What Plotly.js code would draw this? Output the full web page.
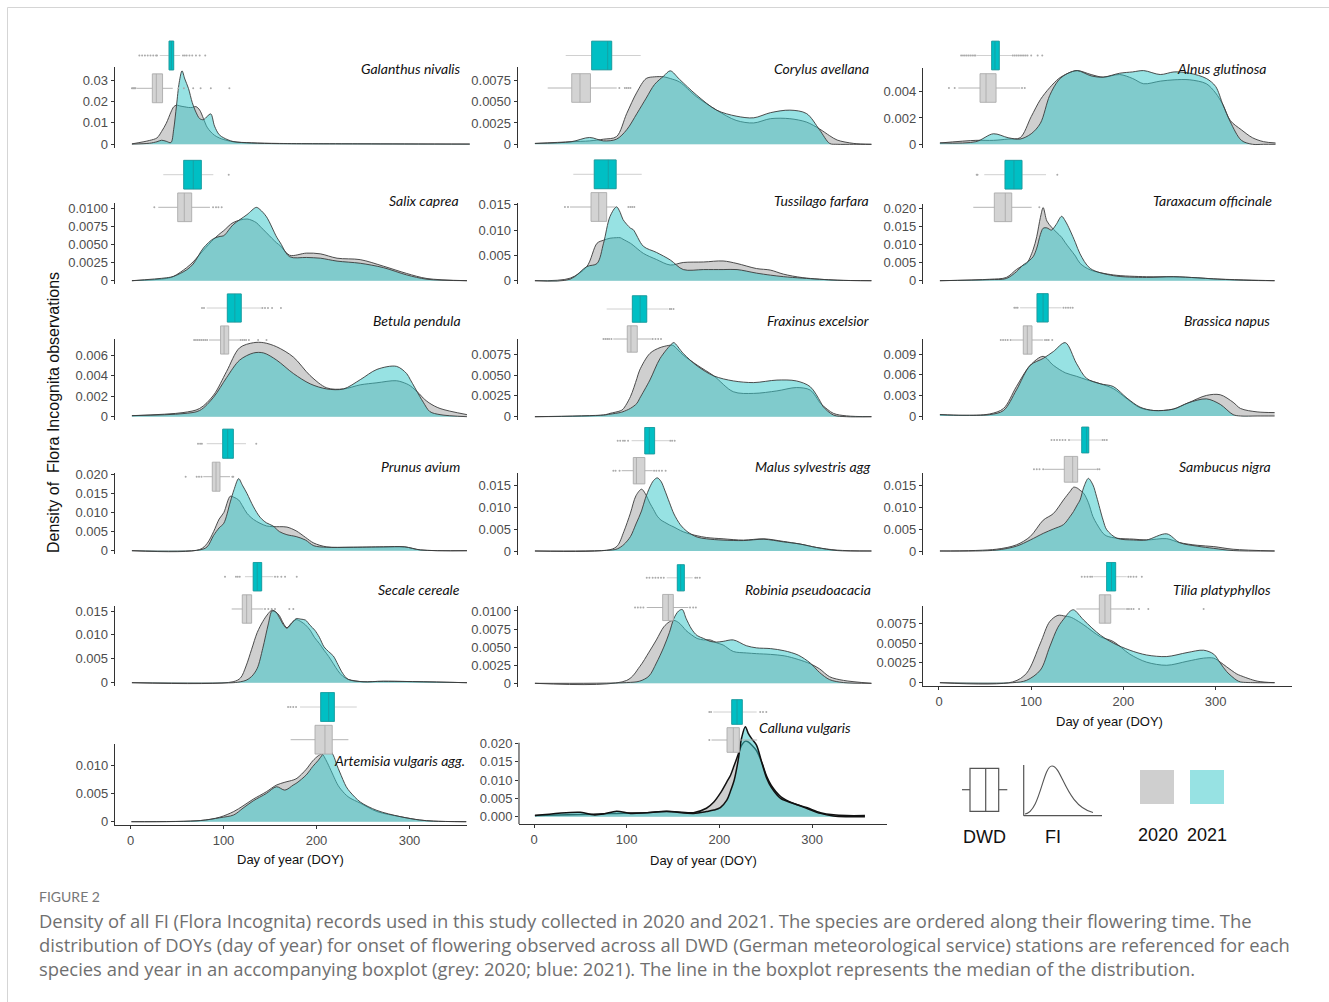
<!DOCTYPE html>
<html><head><meta charset="utf-8">
<script src="https://cdn.plot.ly/plotly-3.0.1.min.js"></script>
<style>html,body{margin:0;padding:0;background:#fff;}#chart{width:1329px;height:1002px;}</style>
</head><body><div id="chart"></div>
<script>
// ---------------- DATA ----------------
const SPECIES_NAMES = ['Galanthus nivalis','Corylus avellana','Alnus glutinosa','Salix caprea','Tussilago farfara','Taraxacum officinale','Betula pendula','Fraxinus excelsior','Brassica napus','Prunus avium','Malus sylvestris agg','Sambucus nigra','Secale cereale','Robinia pseudoacacia','Tilia platyphyllos','Artemisia vulgaris agg.','Calluna vulgaris'];
const X_TICKS = [0,100,200,300];

// density of FI records (DOY, 2020, 2021)
const galanthus_doy = [1,20,28,33,38,43,46,49,52,55,58,62,66,70,74,78,82,86,90,95,100,110,130,160,250,365];
const galanthus_2020 = [0.0002,0.0018,0.0030,0.0060,0.0098,0.0150,0.0175,0.0183,0.0180,0.0177,0.0175,0.0172,0.0172,0.0176,0.0160,0.0121,0.0080,0.0058,0.0042,0.0030,0.0022,0.0012,0.0007,0.0004,0.0002,0.0001];
const galanthus_2021 = [0.0001,0.0005,0.0012,0.0019,0.0014,0.0008,0.0070,0.0180,0.0290,0.0343,0.0305,0.0260,0.0195,0.0150,0.0120,0.0115,0.0130,0.0142,0.0085,0.0045,0.0030,0.0013,0.0006,0.0003,0.0002,0.0001];

const corylus_doy = [1,40,60,75,89,100,111,121,130,140,147,157,175,197,218,237,255,276,294,308,319,327,345,364];
const corylus_2020 = [0.0001,0.0003,0.0004,0.0006,0.0009,0.0036,0.0061,0.0077,0.0079,0.0079,0.0077,0.0073,0.0056,0.0040,0.0028,0.0025,0.0030,0.0030,0.0026,0.0018,0.0010,0.0005,0.0001,0.0000];
const corylus_2021 = [0.0001,0.0003,0.0008,0.0004,0.0006,0.0017,0.0036,0.0054,0.0070,0.0080,0.0086,0.0076,0.0058,0.0040,0.0033,0.0031,0.0037,0.0040,0.0036,0.0017,0.0001,0.0000,0.0000,0.0000];

const alnus_doy = [1,40,59,75,88,100,110,120,130,140,150,165,178,196,210,222,240,255,272,290,300,308,316,328,340,352,365];
const alnus_2020 = [0.0001,0.0003,0.0003,0.0004,0.0005,0.0021,0.0034,0.0043,0.0050,0.0054,0.0056,0.0053,0.0051,0.0053,0.0050,0.0046,0.0048,0.0049,0.0049,0.0046,0.0039,0.0030,0.0018,0.0011,0.0005,0.0002,0.0001];
const alnus_2021 = [0.0001,0.0002,0.0008,0.0005,0.0004,0.0008,0.0016,0.0037,0.0049,0.0054,0.0056,0.0052,0.0051,0.0054,0.0055,0.0056,0.0053,0.0055,0.0054,0.0050,0.0044,0.0030,0.0017,0.0003,0.0000,0.0000,0.0000];

const salix_doy = [1,38,46,60,67,78,89,96,100,110,125,135,139,146,157,161,171,189,204,222,247,272,297,319,362];
const salix_2020 = [0,0.0003,0.0006,0.0018,0.0026,0.0042,0.0057,0.0065,0.0069,0.0080,0.0085,0.0080,0.0075,0.0066,0.0052,0.0048,0.0035,0.0038,0.0037,0.0031,0.0029,0.0020,0.0010,0.0003,0];
const salix_2021 = [0,0.0004,0.0006,0.0015,0.0023,0.0045,0.0058,0.0061,0.0062,0.0077,0.0091,0.0101,0.0098,0.0088,0.0060,0.0052,0.0033,0.0032,0.0031,0.0027,0.0024,0.0018,0.0008,0.0002,0];

const tussilago_doy = [1,39,57,68,75,82,89,93,96,104,107,118,132,147,161,183,204,219,240,255,269,290,327,364];
const tussilago_2020 = [0,0.0005,0.0028,0.0074,0.0080,0.0084,0.0085,0.0085,0.0082,0.0074,0.0070,0.0054,0.0042,0.0031,0.0036,0.0037,0.0039,0.0034,0.0024,0.0021,0.0013,0.0006,0.0001,0];
const tussilago_2021 = [0,0.0003,0.0028,0.0034,0.0074,0.0127,0.0146,0.0135,0.0121,0.0104,0.0101,0.0068,0.0056,0.0041,0.0022,0.0022,0.0022,0.0022,0.0015,0.0011,0.0008,0.0005,0.0001,0];

const taraxacum_doy = [1,55,73,84,91,95,102,106,110,113,117,122,127,133,137,142,148,153,164,189,225,254,280,298,334,364];
const taraxacum_2020 = [0,0.0004,0.0009,0.0031,0.0042,0.0047,0.0085,0.0122,0.0175,0.0202,0.0165,0.0148,0.0135,0.0120,0.0105,0.0088,0.0068,0.0048,0.0030,0.0016,0.0011,0.0011,0.0008,0.0005,0.0002,0];
const taraxacum_2021 = [0,0.0003,0.0006,0.0025,0.0043,0.0050,0.0066,0.0090,0.0128,0.0145,0.0146,0.0140,0.0155,0.0178,0.0165,0.0140,0.0105,0.0074,0.0034,0.0014,0.0009,0.0011,0.0008,0.0005,0.0001,0];

const betula_doy = [1,56,74,89,103,117,132,143,157,175,193,211,229,247,265,286,297,301,311,315,322,333,362];
const betula_2020 = [0.0001,0.0004,0.0008,0.0021,0.0044,0.0067,0.0072,0.0072,0.0068,0.0058,0.0040,0.0028,0.0027,0.0031,0.0033,0.0035,0.0032,0.0030,0.0022,0.0018,0.0013,0.0008,0.0002];
const betula_2021 = [0.0001,0.0003,0.0006,0.0019,0.0038,0.0055,0.0062,0.0062,0.0055,0.0042,0.0032,0.0027,0.0027,0.0036,0.0046,0.0049,0.0042,0.0036,0.0020,0.0014,0.0005,0.0002,0];

const fraxinus_doy = [1,75,82,93,96,104,111,114,125,136,149,151,161,176,194,215,237,262,283,298,309,312,323,337,364];
const fraxinus_2020 = [0,0.0002,0.0004,0.0007,0.0009,0.0024,0.0046,0.0056,0.0076,0.0083,0.0086,0.0085,0.0074,0.0062,0.0049,0.0030,0.0028,0.0031,0.0035,0.0032,0.0016,0.0013,0.0004,0.0001,0];
const fraxinus_2021 = [0,0.0002,0.0003,0.0005,0.0006,0.0010,0.0016,0.0022,0.0044,0.0070,0.0088,0.0089,0.0076,0.0061,0.0049,0.0043,0.0041,0.0044,0.0043,0.0036,0.0018,0.0012,0.0002,0,0];

const brassica_doy = [1,26,55,70,84,99,113,124,137,149,160,175,189,204,218,233,254,270,290,305,319,327,345,364];
const brassica_2020 = [0.0002,0.0001,0.0003,0.0011,0.0043,0.0074,0.0087,0.0074,0.0063,0.0058,0.0053,0.0047,0.0040,0.0025,0.0012,0.0008,0.0010,0.0019,0.0030,0.0031,0.0020,0.0011,0.0006,0.0005];
const brassica_2021 = [0.0002,0.0001,0.0002,0.0008,0.0038,0.0074,0.0084,0.0094,0.0107,0.0077,0.0055,0.0047,0.0043,0.0026,0.0013,0.0008,0.0010,0.0019,0.0025,0.0017,0.0002,0,0,0];

const prunus_doy = [1,74,82,89,95,100,107,111,116,120,125,132,139,146,153,160,168,178,188,197,211,236,272,295,312,362];
const prunus_2020 = [0,0.0003,0.0019,0.0050,0.0083,0.0100,0.0143,0.0140,0.0133,0.0118,0.0098,0.0082,0.0072,0.0065,0.0063,0.0063,0.0062,0.0052,0.0035,0.0020,0.0010,0.0009,0.0010,0.0010,0.0002,0];
const prunus_2021 = [0,0.0002,0.0010,0.0040,0.0060,0.0072,0.0128,0.0160,0.0189,0.0172,0.0150,0.0115,0.0088,0.0073,0.0065,0.0050,0.0042,0.0037,0.0028,0.0013,0.0009,0.0009,0.0010,0.0010,0.0002,0];

const malus_doy = [1,82,90,97,104,110,116,120,125,129,133,137,141,146,151,158,165,176,186,204,226,248,269,287,305,327,364];
const malus_2020 = [0,0.0003,0.0012,0.0045,0.0087,0.0127,0.0142,0.0132,0.0110,0.0095,0.0080,0.0071,0.0066,0.0060,0.0055,0.0047,0.0041,0.0035,0.0031,0.0028,0.0025,0.0028,0.0022,0.0016,0.0008,0.0002,0];
const malus_2021 = [0,0.0002,0.0005,0.0015,0.0033,0.0062,0.0092,0.0120,0.0147,0.0162,0.0168,0.0160,0.0140,0.0112,0.0085,0.0060,0.0045,0.0032,0.0028,0.0025,0.0024,0.0027,0.0021,0.0016,0.0008,0.0001,0];

const sambucus_doy = [1,62,84,99,113,124,135,142,146,150,153,157,162,167,171,178,182,193,211,225,247,261,280,298,319,364];
const sambucus_2020 = [0,0.0004,0.0014,0.0033,0.0070,0.0085,0.0116,0.0135,0.0145,0.0143,0.0138,0.0131,0.0110,0.0078,0.0062,0.0040,0.0034,0.0029,0.0027,0.0025,0.0028,0.0019,0.0013,0.0010,0.0004,0];
const sambucus_2021 = [0,0.0002,0.0011,0.0025,0.0040,0.0050,0.0060,0.0078,0.0090,0.0105,0.0116,0.0145,0.0165,0.0150,0.0123,0.0070,0.0048,0.0029,0.0025,0.0025,0.0039,0.0019,0.0011,0.0006,0.0001,0];

const secale_doy = [1,110,118,124,130,136,142,148,152,156,160,164,168,173,178,183,188,193,198,203,208,213,218,223,228,234,250,272,362];
const secale_2020 = [0,0.0002,0.0010,0.0035,0.0070,0.0105,0.0128,0.0145,0.0152,0.0148,0.0140,0.0125,0.0115,0.0125,0.0132,0.0128,0.0121,0.0110,0.0094,0.0082,0.0068,0.0055,0.0040,0.0025,0.0014,0.0007,0.0002,0.0003,0];
const secale_2021 = [0,0.0000,0.0002,0.0005,0.0013,0.0030,0.0072,0.0123,0.0150,0.0148,0.0136,0.0122,0.0114,0.0124,0.0134,0.0133,0.0131,0.0120,0.0110,0.0095,0.0075,0.0065,0.0056,0.0038,0.0020,0.0007,0.0002,0.0003,0];

const robinia_doy = [1,100,114,124,132,140,146,151,156,160,164,170,176,183,190,197,204,215,229,240,255,270,285,298,308,319,334,364];
const robinia_2020 = [0,0.0004,0.0023,0.0043,0.0060,0.0078,0.0085,0.0087,0.0084,0.0079,0.0073,0.0067,0.0062,0.0060,0.0060,0.0056,0.0053,0.0044,0.0042,0.0041,0.0040,0.0038,0.0033,0.0027,0.0020,0.0009,0.0004,0];
const robinia_2021 = [0,0.0001,0.0003,0.0010,0.0028,0.0050,0.0070,0.0090,0.0100,0.0102,0.0090,0.0075,0.0066,0.0062,0.0058,0.0057,0.0058,0.0060,0.0052,0.0049,0.0048,0.0045,0.0039,0.0028,0.0015,0.0005,0.0001,0];

const tilia_doy = [1,80,95,110,120,129,137,142,146,157,175,189,207,225,247,269,287,298,305,312,323,327,345,364];
const tilia_2020 = [0,0.0001,0.0012,0.0050,0.0077,0.0085,0.0084,0.0083,0.0081,0.0073,0.0058,0.0052,0.0036,0.0026,0.0022,0.0027,0.0031,0.0031,0.0026,0.0020,0.0011,0.0009,0.0002,0];
const tilia_2021 = [0,0,0.0003,0.0016,0.0045,0.0070,0.0083,0.0090,0.0092,0.0079,0.0060,0.0050,0.0041,0.0035,0.0033,0.0038,0.0041,0.0036,0.0025,0.0014,0.0003,0.0001,0,0];

const artemisia_doy = [1,75,96,111,121,132,146,157,166,175,179,189,196,202,206,210,213,218,222,225,232,236,247,265,290,311,326,361];
const artemisia_2020 = [0,0.0002,0.0008,0.0018,0.0028,0.0040,0.0053,0.0065,0.0070,0.0074,0.0077,0.0093,0.0108,0.0117,0.0120,0.0110,0.0100,0.0082,0.0068,0.0060,0.0047,0.0042,0.0033,0.0018,0.0009,0.0003,0.0001,0];
const artemisia_2021 = [0,0.0002,0.0007,0.0012,0.0024,0.0037,0.0050,0.0062,0.0056,0.0065,0.0069,0.0083,0.0098,0.0109,0.0118,0.0126,0.0130,0.0118,0.0100,0.0088,0.0062,0.0053,0.0035,0.0020,0.0009,0.0003,0.0001,0];

const calluna_doy = [1,50,64,75,89,104,122,143,172,186,194,201,208,212,216,220,224,228,231,235,240,246,251,256,266,280,294,309,323,337,357];
const calluna_2020 = [0.0003,0.0006,0.0007,0.0008,0.0009,0.0010,0.0011,0.0015,0.0011,0.0023,0.0040,0.0064,0.0095,0.0113,0.0140,0.0168,0.0195,0.0206,0.0204,0.0195,0.0180,0.0146,0.0110,0.0085,0.0055,0.0036,0.0025,0.0011,0.0005,0.0003,0.0003];
const calluna_2021 = [0.0003,0.0012,0.0005,0.0007,0.0015,0.0009,0.0011,0.0014,0.0009,0.0014,0.0018,0.0025,0.0045,0.0070,0.0100,0.0150,0.0215,0.0245,0.0228,0.0212,0.0195,0.0145,0.0105,0.0080,0.0050,0.0036,0.0023,0.0009,0.0002,0,0];

// DWD onset-of-flowering boxplots: [lower whisker, Q1, median, Q3, upper whisker] (DOY)
const galanthus_box2020 = [6.5,23,27.3,34,45],   galanthus_box2021 = [31,41,43.5,46,53];
const corylus_box2020 = [14.8,40.7,49.6,60.9,89.2], corylus_box2021 = [34.2,62.2,79.5,83.8,115.1];
const alnus_box2020 = [21,44.5,51,61.9,88.2],    alnus_box2021 = [41,57.1,60.7,65.4,79];
const salix_box2020 = [29.4,50.3,57.4,65.4,85.1], salix_box2021 = [34.8,56.8,67.1,75.8,88.7];
const tussilago_box2020 = [38.8,61.5,69.8,78.4,87.4], tussilago_box2021 = [42.4,65,80.1,88.6,116.2];
const taraxacum_box2020 = [37.2,60,71.9,78.9,100.5], taraxacum_box2021 = [49.1,71.6,81.3,90,116.1];
const betula_box2020 = [84,96.5,100.3,105.3,117], betula_box2021 = [81.6,103.8,111.9,118.8,140.8];
const fraxinus_box2020 = [85.5,100.6,104.6,111.4,126.9], fraxinus_box2021 = [78.4,106.1,114.5,121.6,145];
const brassica_box2020 = [78.8,91.4,95.8,100.9,113.1], brassica_box2021 = [87.9,106.3,112.9,118.4,133];
const prunus_box2020 = [77.9,87.6,91.6,95.9,106.7], prunus_box2021 = [81.6,98.8,104.2,110.3,123.9];
const malus_box2020 = [94.6,107.1,110.5,119.6,128], malus_box2021 = [105.3,119.5,124.4,130.1,146];
const sambucus_box2020 = [114.2,135.9,145,150.4,171], sambucus_box2021 = [142.1,154.8,160.1,162.4,176.5];
const secale_box2020 = [108.5,119.9,124.6,130,142.6], secale_box2021 = [122.8,131.7,136,140.8,153.3];
const robinia_box2020 = [121.6,138.8,144.9,150.3,166.5], robinia_box2021 = [143.2,154.6,158.2,162.2,171.2];
const tilia_box2020 = [149,173.9,180,186.3,202.5], tilia_box2021 = [167.4,181.8,187.1,191.6,203.6];
const artemisia_box2020 = [172.2,198.4,209.1,216.9,234.3], artemisia_box2021 = [182.3,204.5,213.1,219.2,243.3];
const calluna_box2020 = [191.5,208.2,215,221.5,240.7], calluna_box2021 = [193.4,213.3,219,224.7,240.2];

// boxplot outliers (DOY)
const galanthus_out2020 = [1,2,3,4,5,51,57,67,75,86,106], galanthus_out2021 = [9,12,15,18,21,24,27,28,56,58,60,63,66,70,74,80];
const corylus_out2020 = [92,98,100,102,104], corylus_out2021 = [];
const alnus_out2020 = [10.8,17,90,93], alnus_out2021 = [24,26,28,30,32,34,36,38,39.5,80,82,84,86,88,90,92,94,96,100,107,112];
const salix_out2020 = [25.1,88.4,91.6,94.2,97.7], salix_out2021 = [105.3];
const tussilago_out2020 = [33.4,36.7,101.8,104,106,108.2], tussilago_out2021 = [];
const taraxacum_out2020 = [108.8], taraxacum_out2021 = [40.9,41.8,128.3];
const betula_out2020 = [68,70,72,74,76,78,80,82,118,120,122,124,127,137,146], betula_out2021 = [76.5,78.7,141.6,144.4,147.6,152,161.6];
const fraxinus_out2020 = [74.9,77,79,81,83.5,128,131,134,137], fraxinus_out2021 = [146.5,148,150.5];
const brassica_out2020 = [67,69.5,72,74.5,77.7,115,117,119,122.8], brassica_out2021 = [81.7,83.5,85.3,135,137.5,140,142.5,145];
const prunus_out2020 = [58.9,70.8,73.3,76,109.2,110.2], prunus_out2021 = [72.2,74.5,76.4,135];
const malus_out2020 = [85.6,88,92.3,129.5,132,135,138,142], malus_out2021 = [90.3,93,96,98,101.5,147,149,151.8];
const sambucus_out2020 = [103,106,109,113,172,174], sambucus_out2021 = [122,125,128,131,134,137,141,177.5,179.5,182];
const secale_out2020 = [144.4,148,151.6,155.2,170.6,174.9], secale_out2021 = [101.3,113.1,115,117.2,155.2,158,162,166,178.6];
const robinia_out2020 = [109,112,115,118,168.3,171.7,174.6], robinia_out2021 = [121.6,124.5,128,131,134,137,140,174,176,178.8];
const tilia_out2020 = [204,206,208.5,211,217,227,287], tilia_out2021 = [154.8,158,161,164,166,205.4,208,211,214,220];
const artemisia_out2020 = [], artemisia_out2021 = [169.4,172,175,178];
const calluna_out2020 = [189.1], calluna_out2021 = [189.1,191,244,247,250.6];

// y tick values / labels per panel
const yticks = [
  [0,0.01,0.02,0.03], [0,0.0025,0.005,0.0075], [0,0.002,0.004],
  [0,0.0025,0.005,0.0075,0.01], [0,0.005,0.01,0.015], [0,0.005,0.01,0.015,0.02],
  [0,0.002,0.004,0.006], [0,0.0025,0.005,0.0075], [0,0.003,0.006,0.009],
  [0,0.005,0.01,0.015,0.02], [0,0.005,0.01,0.015], [0,0.005,0.01,0.015],
  [0,0.005,0.01,0.015], [0,0.0025,0.005,0.0075,0.01], [0,0.0025,0.005,0.0075],
  [0,0.005,0.01], [0,0.005,0.01,0.015,0.02]
];
const yticktext = [
  ['0','0.01','0.02','0.03'], ['0','0.0025','0.0050','0.0075'], ['0','0.002','0.004'],
  ['0','0.0025','0.0050','0.0075','0.0100'], ['0','0.005','0.010','0.015'], ['0','0.005','0.010','0.015','0.020'],
  ['0','0.002','0.004','0.006'], ['0','0.0025','0.0050','0.0075'], ['0','0.003','0.006','0.009'],
  ['0','0.005','0.010','0.015','0.020'], ['0','0.005','0.010','0.015'], ['0','0.005','0.010','0.015'],
  ['0','0.005','0.010','0.015'], ['0','0.0025','0.0050','0.0075','0.0100'], ['0','0.0025','0.0050','0.0075'],
  ['0','0.005','0.010'], ['0.000','0.005','0.010','0.015','0.020']
];

// ---------------- TABLES built from the arrays ----------------
const DOY = [galanthus_doy,corylus_doy,alnus_doy,salix_doy,tussilago_doy,taraxacum_doy,betula_doy,fraxinus_doy,brassica_doy,prunus_doy,malus_doy,sambucus_doy,secale_doy,robinia_doy,tilia_doy,artemisia_doy,calluna_doy];
const D20 = [galanthus_2020,corylus_2020,alnus_2020,salix_2020,tussilago_2020,taraxacum_2020,betula_2020,fraxinus_2020,brassica_2020,prunus_2020,malus_2020,sambucus_2020,secale_2020,robinia_2020,tilia_2020,artemisia_2020,calluna_2020];
const D21 = [galanthus_2021,corylus_2021,alnus_2021,salix_2021,tussilago_2021,taraxacum_2021,betula_2021,fraxinus_2021,brassica_2021,prunus_2021,malus_2021,sambucus_2021,secale_2021,robinia_2021,tilia_2021,artemisia_2021,calluna_2021];
const B20 = [galanthus_box2020,corylus_box2020,alnus_box2020,salix_box2020,tussilago_box2020,taraxacum_box2020,betula_box2020,fraxinus_box2020,brassica_box2020,prunus_box2020,malus_box2020,sambucus_box2020,secale_box2020,robinia_box2020,tilia_box2020,artemisia_box2020,calluna_box2020];
const B21 = [galanthus_box2021,corylus_box2021,alnus_box2021,salix_box2021,tussilago_box2021,taraxacum_box2021,betula_box2021,fraxinus_box2021,brassica_box2021,prunus_box2021,malus_box2021,sambucus_box2021,secale_box2021,robinia_box2021,tilia_box2021,artemisia_box2021,calluna_box2021];
const O20 = [galanthus_out2020,corylus_out2020,alnus_out2020,salix_out2020,tussilago_out2020,taraxacum_out2020,betula_out2020,fraxinus_out2020,brassica_out2020,prunus_out2020,malus_out2020,sambucus_out2020,secale_out2020,robinia_out2020,tilia_out2020,artemisia_out2020,calluna_out2020];
const O21 = [galanthus_out2021,corylus_out2021,alnus_out2021,salix_out2021,tussilago_out2021,taraxacum_out2021,betula_out2021,fraxinus_out2021,brassica_out2021,prunus_out2021,malus_out2021,sambucus_out2021,secale_out2021,robinia_out2021,tilia_out2021,artemisia_out2021,calluna_out2021];

// ---------------- LAYOUT GEOMETRY (pixels) ----------------
const W = 1329, H = 1002;
const COLS = [{x0:131, s:0.928},{x0:534, s:0.927},{x0:939, s:0.922}];
const PANELS = [
 {col:0, top:67,    zero:144.3, ymax:0.0361,  cy:55.5,  gy:88.3,  lx:463,  ly:68},
 {col:1, top:67,    zero:144.3, ymax:0.00905, cy:55.5,  gy:88,    lx:871,  ly:68},
 {col:2, top:67.7,  zero:144.3, ymax:0.00582, cy:55.5,  gy:88,    lx:1269, ly:68},
 {col:0, top:203.3, zero:280.7, ymax:0.01066, cy:174.7, gy:207.3, lx:461,  ly:201},
 {col:1, top:203.3, zero:280.7, ymax:0.0153,  cy:174.3, gy:207,   lx:871,  ly:201},
 {col:2, top:204,   zero:280.7, ymax:0.0212,  cy:174.7, gy:207.3, lx:1274, ly:201},
 {col:0, top:339.3, zero:416.7, ymax:0.00753, cy:308,   gy:340,   lx:463,  ly:320},
 {col:1, top:339.3, zero:416.7, ymax:0.0093,  cy:309,   gy:339,   lx:871,  ly:320},
 {col:2, top:339.3, zero:416,   ymax:0.01119, cy:307.8, gy:340,   lx:1272, ly:320},
 {col:0, top:473.3, zero:550.7, ymax:0.0203,  cy:443.7, gy:476.7, lx:462,  ly:466},
 {col:1, top:473.3, zero:551,   ymax:0.01785, cy:440.7, gy:470.7, lx:872,  ly:466},
 {col:2, top:473.3, zero:551,   ymax:0.01766, cy:440,   gy:469.3, lx:1273, ly:466},
 {col:0, top:606,   zero:682.7, ymax:0.01605, cy:576.7, gy:609,   lx:462,  ly:589},
 {col:1, top:606,   zero:683.3, ymax:0.01069, cy:577.8, gy:607.5, lx:873,  ly:589},
 {col:2, top:606,   zero:682.7, ymax:0.00968, cy:576.7, gy:609,   lx:1273, ly:589, xaxis:true, ext:3.3, title:[1109,721]},
 {col:0, top:744,   zero:821.7, ymax:0.01378, cy:707,   gy:739.7, lx:467,  ly:760, xaxis:true, ext:3.3, x0:130.5, s:0.93, xr:[-16.7,361.8], title:[290,859]},
 {col:1, top:720,   zero:816.7, ymax:0.02635, cy:712,   gy:740,   lx:853,  ly:727, xaxis:true, ext:7.3, xr:[-16.2,380.8], axisTop:742.7, title:[703,860]}
];

const GREY_FILL = 'rgba(160,160,160,0.5)';
const CYAN_FILL = 'rgba(55,199,201,0.52)';
const TICKFONT = {family:'Liberation Sans, Arial, sans-serif', size:13, color:'#4D4D4D'};
const fx = px => px / W, fy = py => 1 - py / H;

const data = [], layout = {
  width: W, height: H, margin:{l:0,r:0,t:0,b:0}, paper_bgcolor:'#fff', plot_bgcolor:'rgba(0,0,0,0)',
  showlegend:false, hovermode:false, boxmode:'overlay', annotations:[], shapes:[]
};

PANELS.forEach((p, i) => {
  const n = i + 1, nb = 17 + i + 1;
  const xr = p.xr || [-17.5, 382.5];
  const c = COLS[p.col], x0 = p.x0 || c.x0, s = p.s || c.s;
  const ext = p.ext || 3.7;
  const scale = (p.zero - p.top) / p.ymax;
  const xa = n === 1 ? 'x' : 'x' + n, ya = n === 1 ? 'y' : 'y' + n, yb = 'y' + nb;
  const xName = n === 1 ? 'xaxis' : 'xaxis' + n, yName = n === 1 ? 'yaxis' : 'yaxis' + n;
  const sp = p.gy - p.cy;

  layout[xName] = {
    domain:[fx(x0 + xr[0]*s), fx(x0 + xr[1]*s)], range:xr, anchor:ya,
    showgrid:false, zeroline:false, fixedrange:true,
    showline:!!p.xaxis, linecolor:'#333', linewidth:1.1,
    showticklabels:!!p.xaxis, ticks:p.xaxis ? 'outside' : '', ticklen:3, tickcolor:'#333',
    tickvals:X_TICKS, ticktext:X_TICKS.map(String), tickfont:TICKFONT
  };
  layout[yName] = {
    domain:[fy(p.zero + ext), fy(p.top)], range:[-ext/scale, p.ymax], anchor:xa,
    showgrid:false, zeroline:false, fixedrange:true,
    showline:!p.axisTop, linecolor:'#333', linewidth:1.1,
    ticks:'outside', ticklen:3, tickcolor:'#333', tickvals:yticks[i], ticktext:yticktext[i], tickfont:TICKFONT
  };
  layout['yaxis' + nb] = {
    domain:[fy(p.gy + sp/2), fy(p.cy - sp/2)], range:[-0.5, 1.5], anchor:xa, visible:false, fixedrange:true
  };
  if (p.axisTop) {
    layout.shapes.push({type:'line', xref:'paper', yref:'paper', x0:fx(x0 + xr[0]*s), x1:fx(x0 + xr[0]*s),
      y0:fy(p.axisTop), y1:fy(p.zero + ext), line:{color:'#333', width:1.1}});
  }

  const lw = i === 16 ? 1.5 : 0.9, lc = i === 16 ? '#111' : '#3a3a3a';
  data.push({type:'scatter', mode:'lines', x:DOY[i], y:D20[i], xaxis:xa, yaxis:ya, fill:'tozeroy',
    fillcolor:GREY_FILL, line:{color:lc, width:lw, shape:'spline', smoothing:0.9}, hoverinfo:'skip'});
  data.push({type:'scatter', mode:'lines', x:DOY[i], y:D21[i], xaxis:xa, yaxis:ya, fill:'tozeroy',
    fillcolor:CYAN_FILL, line:{color:lc, width:lw, shape:'spline', smoothing:0.9}, hoverinfo:'skip'});

  // boxplots: 2020 grey (position 0), 2021 cyan (position 1)
  const b20 = B20[i], b21 = B21[i];
  data.push({type:'box', orientation:'h', y:[0], lowerfence:[b20[0]], q1:[b20[1]], median:[b20[2]], q3:[b20[3]], upperfence:[b20[4]],
    width:0.88, whiskerwidth:0, fillcolor:'#D3D3D3', line:{color:'#ABABAB', width:0.9}, boxpoints:false, xaxis:xa, yaxis:yb, hoverinfo:'skip'});
  data.push({type:'box', orientation:'h', y:[1], lowerfence:[b21[0]], q1:[b21[1]], median:[b21[2]], q3:[b21[3]], upperfence:[b21[4]],
    width:0.88, whiskerwidth:0, fillcolor:'#00BFC4', line:{color:'#C4C4C4', width:0.8}, boxpoints:false, xaxis:xa, yaxis:yb, hoverinfo:'skip'});
  data.push({type:'box', orientation:'h', y:[1], lowerfence:[b21[1]], q1:[b21[1]], median:[b21[2]], q3:[b21[3]], upperfence:[b21[3]],
    width:0.88, whiskerwidth:0, fillcolor:'#00BFC4', line:{color:'#169EA1', width:0.9}, boxpoints:false, xaxis:xa, yaxis:yb, hoverinfo:'skip'});
  data.push({type:'scatter', mode:'markers', x:O20[i], y:O20[i].map(() => 0), xaxis:xa, yaxis:yb,
    marker:{size:2, color:'#ababab'}, hoverinfo:'skip'});
  data.push({type:'scatter', mode:'markers', x:O21[i], y:O21[i].map(() => 1), xaxis:xa, yaxis:yb,
    marker:{size:2, color:'#ababab'}, hoverinfo:'skip'});

  layout.annotations.push({text:SPECIES_NAMES[i], xref:'paper', yref:'paper', x:fx(p.lx), y:fy(p.ly),
    xanchor:'right', yanchor:'middle', showarrow:false,
    font:{family:'Liberation Sans Narrow, Lato, sans-serif', size:14, style:'italic', color:'#111'}});
  if (p.title) {
    layout.annotations.push({text:'Day of year (DOY)', xref:'paper', yref:'paper', x:fx(p.title[0]), y:fy(p.title[1]),
      xanchor:'center', yanchor:'middle', showarrow:false, font:{family:'Liberation Sans, Arial, sans-serif', size:13, color:'#111'}});
  }
});

// y-axis title
layout.annotations.push({text:'Density of\u00a0 Flora Incognita observations', xref:'paper', yref:'paper', x:fx(53), y:fy(413),
  textangle:-90, xanchor:'center', yanchor:'middle', showarrow:false, font:{family:'Liberation Sans, Arial, sans-serif', size:16, color:'#111'}});

// legend (DWD boxplot icon, FI density icon, year swatches)
const L = {color:'#555', width:1.2};
const line = (x0,y0,x1,y1,st) => ({type:'line', xref:'paper', yref:'paper', x0:fx(x0), y0:fy(y0), x1:fx(x1), y1:fy(y1), line:st});
const rect = (x0,y0,x1,y1,fill,st) => ({type:'rect', xref:'paper', yref:'paper', x0:fx(x0), y0:fy(y0), x1:fx(x1), y1:fy(y1), fillcolor:fill, line:st});
layout.shapes.push(rect(970,768.3,998.7,811.3,'rgba(0,0,0,0)',L));
layout.shapes.push(line(985.7,768.3,985.7,811.3,L));
layout.shapes.push(line(962,789.7,970,789.7,L));
layout.shapes.push(line(998.7,789.7,1007.3,789.7,L));
layout.shapes.push(line(1023.7,765,1023.7,815.7,L));
layout.shapes.push(line(1023.7,815.7,1102,815.7,L));
const P = (x,y) => fx(x).toFixed(5) + ',' + fy(y).toFixed(5);
layout.shapes.push({type:'path', xref:'paper', yref:'paper', line:{color:'#555', width:1.1},
  path:'M' + P(1025,814) + ' C' + P(1040,812) + ' ' + P(1043,766) + ' ' + P(1052,766) + ' C' + P(1062,766) + ' ' + P(1066,806) + ' ' + P(1093,812.5)});
layout.shapes.push(rect(1140,770,1174,804,GREY_FILL,{width:0}));
layout.shapes.push(rect(1190,770,1224,804,CYAN_FILL,{width:0}));
const LF = {family:'Liberation Sans, Arial, sans-serif', size:18, color:'#111'};
[['DWD',984.3,837],['FI',1052.7,837],['2020',1158,835],['2021',1207.3,835]].forEach(t =>
  layout.annotations.push({text:t[0], xref:'paper', yref:'paper', x:fx(t[1]), y:fy(t[2]), xanchor:'center', yanchor:'middle', showarrow:false, font:LF}));

// frame
layout.shapes.push(line(7.5,7.5,1329,7.5,{color:'#d5d5d5', width:1}));
layout.shapes.push(line(7.5,7.5,7.5,1002,{color:'#d5d5d5', width:1}));

// caption
const CF = {family:'Open Sans, Lato, sans-serif', size:18.4, color:'#6f6f6f'};
layout.annotations.push({text:'FIGURE 2', xref:'paper', yref:'paper', x:fx(37), y:fy(896), xanchor:'left', yanchor:'middle', showarrow:false,
  font:{family:'Lato, Open Sans, sans-serif', size:14, color:'#777'}});
[['Density of all FI (Flora Incognita) records used in this study collected in 2020 and 2021. The species are ordered along their flowering time. The',920],
 ['distribution of DOYs (day of year) for onset of flowering observed across all DWD (German meteorological service) stations are referenced for each',944],
 ['species and year in an accompanying boxplot (grey: 2020; blue: 2021). The line in the boxplot represents the median of the distribution.',968]
].forEach(t => layout.annotations.push({text:t[0], xref:'paper', yref:'paper', x:fx(37), y:fy(t[1]), xanchor:'left', yanchor:'middle', showarrow:false, font:CF}));

Plotly.newPlot('chart', data, layout, {staticPlot:true, displayModeBar:false});
</script>
</body></html>
